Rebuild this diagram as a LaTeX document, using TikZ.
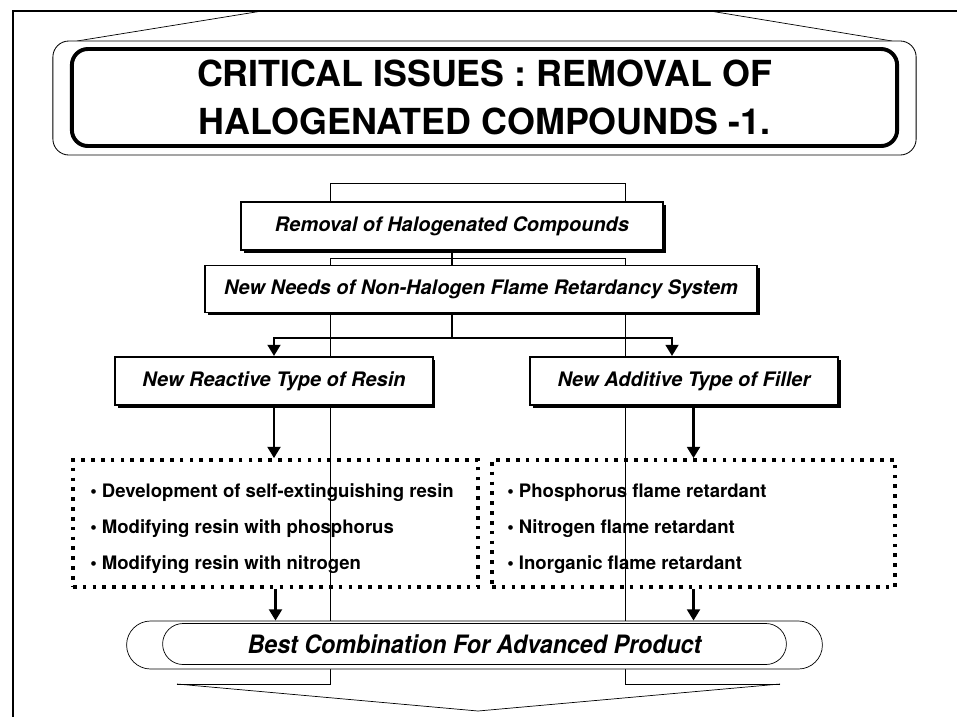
\documentclass[tikz,border=0pt]{standalone}
\usepackage{fontspec}
\setmainfont{TeX Gyre Heros}
\usetikzlibrary{arrows.meta,shapes.misc,shadows}

\tikzset{
  thinline/.style={line width=0.5pt},
  headbox/.style={draw, line width=1.4pt, fill=white,
    drop shadow={shadow xshift=2pt,shadow yshift=-2pt,opacity=1,fill=black},
    font=\bfseries\itshape\fontsize{14.2}{16}\selectfont},
  dotbox/.style={draw, line width=2.6pt, dash pattern=on 2.6pt off 4.4pt,
    minimum height=3.175cm},
  itemlist/.style={align=left, inner sep=0pt, anchor=west,
    font=\bfseries\fontsize{13.2}{25.6}\selectfont},
  flow/.style={line width=2pt, -{Triangle[length=8pt,width=9pt]}},
  link/.style={line width=2pt},
}

\begin{document}
\begin{tikzpicture}[x=0.025cm,y=-0.025cm]
\useasboundingbox (0,0) rectangle (957,717);

% page frame
\draw[line width=1.2pt] (957,11) -- (13,11) -- (13,717);

% lines behind the boxes
\draw[thinline] (77,41) -- (262,11);
\draw[thinline] (892,41) -- (710,11);
\draw[thinline] (330,202) -- (330,183) -- (625,183) -- (625,202);
\draw[thinline] (177,684) -- (330,684) -- (330,258) -- (625,258) -- (625,684) -- (780,684);
\draw[thinline] (177,684) -- (478,711) -- (780,684);

% title
\node[draw, line width=0.6pt, fill=white, rounded corners=0.4cm,
  minimum width=21.575cm, minimum height=2.85cm] (frame) at (484.5,98) {};
\node[draw, line width=2.8pt, rounded corners=0.4cm, align=center,
  minimum width=20.625cm, minimum height=2.425cm,
  font=\bfseries\fontsize{25.5}{34}\selectfont] (title) at (484.5,97.5)
  {CRITICAL ISSUES : REMOVAL OF\\HALOGENATED COMPOUNDS -1.};

% boxes
\node[headbox, minimum width=10.55cm, minimum height=1.2cm] (removal) at (452,226) {Removal of Halogenated Compounds};
\node[headbox, minimum width=13.8cm, minimum height=1.175cm] (needs) at (481,289) {New Needs of Non-Halogen Flame Retardancy System};
\node[headbox, minimum width=7.925cm, minimum height=1.2cm] (resin) at (274,381) {New Reactive Type of Resin};
\node[headbox, minimum width=7.7cm, minimum height=1.2cm] (filler) at (684,381) {New Additive Type of Filler};

\node[dotbox, minimum width=10.125cm] (resinlist) at (275.5,523.5) {};
\node[itemlist] (resinitems) at (90,529)
  {• Development of self-extinguishing resin\\• Modifying resin with phosphorus\\• Modifying resin with nitrogen};
\node[dotbox, minimum width=10.075cm] (fillerlist) at (693.5,523.5) {};
\node[itemlist] (filleritems) at (507,529)
  {• Phosphorus flame retardant\\• Nitrogen flame retardant\\• Inorganic flame retardant};

\node[draw, thinline, fill=white, rounded rectangle,
  minimum width=17.625cm, minimum height=1.2cm] (combo) at (474.5,645) {};
\node[draw, thinline, fill=white, rounded rectangle,
  minimum width=15.825cm, minimum height=1.025cm,
  font=\bfseries\itshape\fontsize{18}{20}\selectfont] (best) at (474.5,644)
  {\scalebox{0.92}[1]{Best Combination For Advanced Product}};

% connectors
\coordinate (fork) at (452,338);
\draw[link] (removal.south) -- (removal.south |- needs.north);
\draw[link] (removal.south |- needs.south) -- (fork);
\draw[flow] (fork) -| (resin.north);
\draw[flow] (fork) -| ([xshift=-0.3cm]filler.north);
\draw[flow] (resin.south) -- (resin.south |- resinlist.north);
\draw[flow] (fillerlist.north |- filler.south) -- (fillerlist.north);
\draw[flow] (resinlist.south) -- (resinlist.south |- combo.north);
\draw[flow] (fillerlist.south) -- (fillerlist.south |- combo.north);
\end{tikzpicture}
\end{document}
